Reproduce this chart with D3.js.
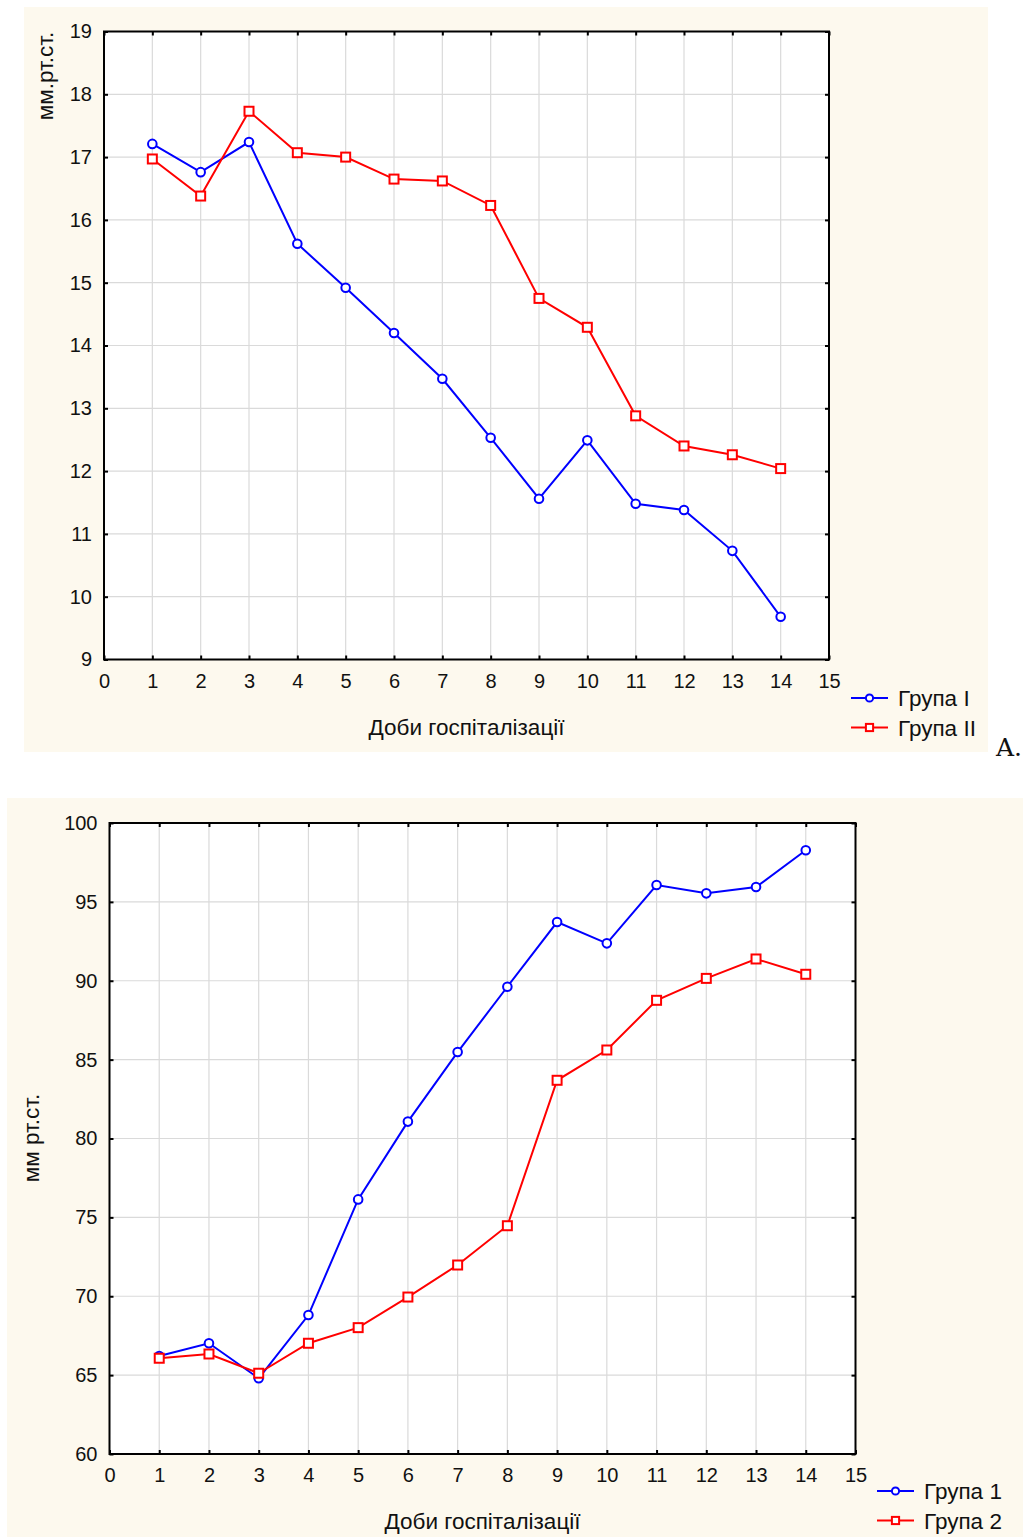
<!DOCTYPE html>
<html>
<head>
<meta charset="utf-8">
<script src="https://cdn.jsdelivr.net/npm/d3@7"></script>
<style>
  html, body { margin: 0; padding: 0; background: #ffffff; }
  svg { display: block; }
  text { font-family: "Liberation Sans", Arial, sans-serif; fill: #111; }
</style>
</head>
<body>
<svg id="chart" width="1023" height="1537"></svg>
<script>
// Days of hospitalisation (x values shared by both panels)
const days = [1, 2, 3, 4, 5, 6, 7, 8, 9, 10, 11, 12, 13, 14];
const xTicks = [0, 1, 2, 3, 4, 5, 6, 7, 8, 9, 10, 11, 12, 13, 14, 15];

// Panel A: pressure, mm Hg
const aGroup1 = [17.21, 16.76, 17.24, 15.62, 14.92, 14.20, 13.47, 12.53, 11.56, 12.49, 11.48, 11.38, 10.73, 9.68];
const aGroup2 = [16.97, 16.38, 17.73, 17.07, 17.00, 16.65, 16.62, 16.23, 14.75, 14.29, 12.88, 12.40, 12.26, 12.04];
const aYTicks = [9, 10, 11, 12, 13, 14, 15, 16, 17, 18, 19];
const aNames = ["Група I", "Група II"];

// Panel B: pressure, mm Hg
const bGroup1 = [66.21, 67.02, 64.80, 68.81, 76.14, 81.07, 85.48, 89.62, 93.72, 92.37, 96.07, 95.54, 95.94, 98.27];
const bGroup2 = [66.07, 66.34, 65.12, 67.02, 68.01, 69.95, 71.98, 74.47, 83.69, 85.61, 88.76, 90.15, 91.38, 90.41];
const bYTicks = [60, 65, 70, 75, 80, 85, 90, 95, 100];
const bNames = ["Група 1", "Група 2"];

const xTitle = "Доби госпіталізації";

const svg = d3.select("#chart");
const BLUE = "#0000ff", RED = "#ff0000";
const FS = 20;      // tick labels
const FS_T = 22.5;  // titles and legend

function panel(cfg) {
  const g = svg.append("g");
  // cream background
  g.append("rect").attr("x", cfg.bg[0]).attr("y", cfg.bg[1])
    .attr("width", cfg.bg[2]).attr("height", cfg.bg[3]).attr("fill", "#fdf9ee");

  const x = d3.scaleLinear().domain([0, 15]).range([cfg.left, cfg.right]);
  const y = d3.scaleLinear().domain(cfg.yDomain).range([cfg.bottom, cfg.top]);
  const w = cfg.right - cfg.left, h = cfg.bottom - cfg.top;

  g.append("rect").attr("x", cfg.left).attr("y", cfg.top)
    .attr("width", w).attr("height", h).attr("fill", "#ffffff");

  // grid
  const grid = g.append("g").attr("stroke", "#dadada").attr("stroke-width", 1.2);
  grid.selectAll("line.v").data(xTicks.slice(1, -1)).join("line")
    .attr("x1", d => x(d)).attr("x2", d => x(d)).attr("y1", cfg.top).attr("y2", cfg.bottom);
  grid.selectAll("line.h").data(cfg.yTicks.slice(1, -1)).join("line")
    .attr("y1", d => y(d)).attr("y2", d => y(d)).attr("x1", cfg.left).attr("x2", cfg.right);

  // axes with inward ticks
  const styleAxis = sel => {
    sel.selectAll(".domain").remove();
    sel.selectAll(".tick line").attr("stroke", "#000").attr("stroke-width", 2);
    sel.selectAll(".tick text").attr("font-size", FS).attr("fill", "#111")
      .style("font-family", '"Liberation Sans", Arial, sans-serif');
  };
  g.append("g").attr("transform", `translate(0,${cfg.bottom})`)
    .call(d3.axisBottom(x).tickValues(xTicks).tickSize(-4).tickPadding(14).tickFormat(d3.format("d")))
    .call(styleAxis);
  g.append("g").attr("transform", `translate(0,${cfg.top})`)
    .call(d3.axisTop(x).tickValues(xTicks).tickSize(-4).tickFormat(""))
    .call(styleAxis);
  g.append("g").attr("transform", `translate(${cfg.left},0)`)
    .call(d3.axisLeft(y).tickValues(cfg.yTicks).tickSize(-4).tickPadding(12).tickFormat(d3.format("d")))
    .call(styleAxis);
  g.append("g").attr("transform", `translate(${cfg.right},0)`)
    .call(d3.axisRight(y).tickValues(cfg.yTicks).tickSize(-4).tickFormat(""))
    .call(styleAxis);

  // frame
  g.append("rect").attr("x", cfg.left).attr("y", cfg.top)
    .attr("width", w).attr("height", h)
    .attr("fill", "none").attr("stroke", "#000").attr("stroke-width", 2);

  // titles
  g.append("text").attr("x", (cfg.left + cfg.right) / 2).attr("y", cfg.xTitleY)
    .attr("text-anchor", "middle").attr("font-size", FS_T).text(xTitle);
  g.append("text")
    .attr("transform", `translate(${cfg.yTitleX},${cfg.yTitleY}) rotate(-90)`)
    .attr("text-anchor", "middle").attr("font-size", FS_T).text(cfg.yTitle);

  // series
  const line = d3.line().x((d, i) => x(days[i])).y(d => y(d));
  const series = [
    { vals: cfg.s1, color: BLUE, shape: "circle" },
    { vals: cfg.s2, color: RED, shape: "square" }
  ];
  series.forEach(s => {
    g.append("path").datum(s.vals).attr("d", line)
      .attr("fill", "none").attr("stroke", s.color).attr("stroke-width", 2);
  });
  series.forEach(s => {
    if (s.shape === "circle") {
      g.selectAll(null).data(s.vals).join("circle")
        .attr("cx", (d, i) => x(days[i])).attr("cy", d => y(d)).attr("r", 4.3)
        .attr("fill", "#fff").attr("stroke", s.color).attr("stroke-width", 2);
    } else {
      g.selectAll(null).data(s.vals).join("rect")
        .attr("x", (d, i) => x(days[i]) - 4.5).attr("y", d => y(d) - 4.5)
        .attr("width", 9).attr("height", 9)
        .attr("fill", "#fff").attr("stroke", s.color).attr("stroke-width", 2);
    }
  });

  // legend
  series.forEach((s, i) => {
    const ly = cfg.legY + i * cfg.legGap;
    const lx0 = cfg.legX, lx1 = cfg.legX + 37, cx = (lx0 + lx1) / 2;
    g.append("line").attr("x1", lx0).attr("x2", lx1).attr("y1", ly).attr("y2", ly)
      .attr("stroke", s.color).attr("stroke-width", 2);
    if (s.shape === "circle") {
      g.append("circle").attr("cx", cx).attr("cy", ly).attr("r", 3.6)
        .attr("fill", "#fff").attr("stroke", s.color).attr("stroke-width", 2);
    } else {
      g.append("rect").attr("x", cx - 3.6).attr("y", ly - 3.6).attr("width", 7.2).attr("height", 7.2)
        .attr("fill", "#fff").attr("stroke", s.color).attr("stroke-width", 2);
    }
    g.append("text").attr("x", lx1 + 10).attr("y", ly + 8).attr("font-size", FS_T)
      .text(cfg.names[i]);
  });
}

panel({
  bg: [24, 7, 964, 745],
  left: 104, right: 829, top: 31.5, bottom: 659.5,
  yDomain: [9, 19], yTicks: aYTicks,
  s1: aGroup1, s2: aGroup2, names: aNames,
  yTitle: "мм.рт.ст.", yTitleX: 53, yTitleY: 76,
  xTitleY: 735,
  legX: 851, legY: 698, legGap: 29.5
});

panel({
  bg: [7, 798, 1016, 739],
  left: 109.5, right: 855.5, top: 823, bottom: 1454,
  yDomain: [60, 100], yTicks: bYTicks,
  s1: bGroup1, s2: bGroup2, names: bNames,
  yTitle: "мм рт.ст.", yTitleX: 39, yTitleY: 1138,
  xTitleY: 1529,
  legX: 877, legY: 1491, legGap: 29.5
});

// panel letter
svg.append("text").attr("x", 996).attr("y", 756)
  .style("font-family", '"DejaVu Serif", "Liberation Serif", serif')
  .attr("font-size", 25).attr("fill", "#000").text("A.");
</script>
</body>
</html>
